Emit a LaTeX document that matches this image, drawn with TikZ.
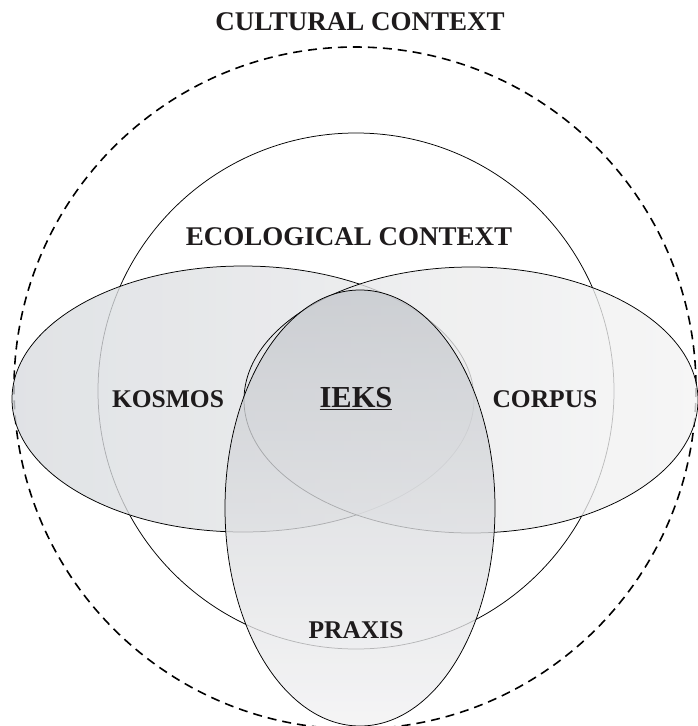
\documentclass[tikz,border=0pt]{standalone}
\usepackage{fontspec}
\setmainfont{Liberation Serif}
\definecolor{ink}{RGB}{30,27,28}
\definecolor{kosL}{RGB}{216,219,223}
\definecolor{kosR}{RGB}{236,236,237}
\definecolor{corL}{RGB}{228,229,231}
\definecolor{corR}{RGB}{244,244,244}
\definecolor{praT}{RGB}{197,200,205}
\definecolor{praB}{RGB}{242,242,243}
\begin{document}
\begin{tikzpicture}[x=1pt,y=-1pt,
  lbl/.style={font=\bfseries\fontsize{25.5}{28}\selectfont, text=ink, inner sep=0pt},
  bigl/.style={font=\bfseries\fontsize{27}{30}\selectfont, text=ink, inner sep=0pt},
  petal/.style={draw=black, line width=0.75pt, fill opacity=0.78},
]
\useasboundingbox (0,0) rectangle (697,726);
\fill[white] (0,0) rectangle (697,726);
% outer dashed circle (cultural context)
\draw[line width=1.6pt, dash pattern=on 9pt off 6pt] (355,388) circle (341);
% ecological circle
\draw[line width=0.75pt] (356,391) circle (258);
% ellipses
\path[petal, left color=kosL, right color=kosR] (243,399) ellipse [x radius=231, y radius=133];
\path[petal, left color=corL, right color=corR] (471,400) ellipse [x radius=227, y radius=133];
\path[petal, top color=praT, bottom color=praB] (360,508) ellipse [x radius=135, y radius=218];
% labels
\node[bigl] (cult) at (360,22) {CULTURAL CONTEXT};
\node[bigl] (eco) at (349,237) {ECOLOGICAL CONTEXT};
\node[lbl] (kos) at (168,399) {KOSMOS};
\node[lbl] (cor) at (545,399) {CORPUS};
\node[lbl] (pra) at (356,630) {PRAXIS};
\node[font=\bfseries\fontsize{30.5}{33}\selectfont, text=ink, inner sep=0pt, anchor=base] (ieks) at (356,407) {\underline{IEKS}};
\end{tikzpicture}
\end{document}
